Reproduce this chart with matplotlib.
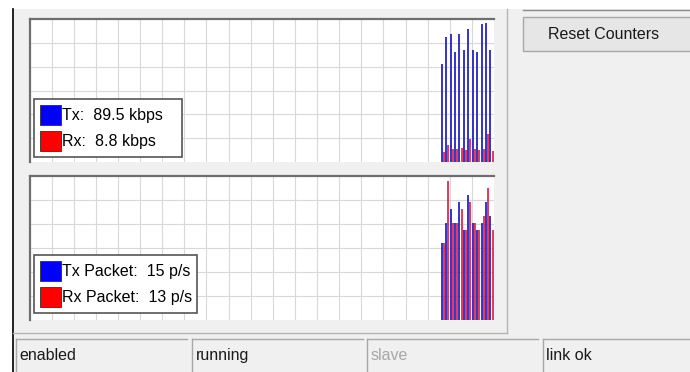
import numpy as np
import matplotlib
matplotlib.use('Agg')
import matplotlib.pyplot as plt
from matplotlib.patches import Rectangle, Patch
from matplotlib import font_manager

# traffic graph (kbps), one sample per step, oldest first
tx_kbps = [78.3, 100.1, 102.7, 88.4, 102.7, 89.5, 106.2, 89.5, 88.4, 110.2, 111.4, 89.5]
rx_kbps = [8.0, 13.3, 10.6, 10.6, 11.4, 9.3, 18.5, 10.6, 9.3, 10.6, 22.5, 8.8]
kbps_max = 114.4

# packet graph (p/s)
tx_pps = [11, 14, 16, 14, 17, 13, 18, 14, 13, 14, 17, 15]
rx_pps = [11, 20, 14, 14, 16, 13, 17, 14, 13, 15, 19, 13]
pps_max = 20.7

traffic_labels = ['Tx:  89.5 kbps', 'Rx:  8.8 kbps']
packet_labels = ['Tx Packet:  15 p/s', 'Rx Packet:  13 p/s']
status_texts = ['enabled', 'running', 'slave', 'link ok']
button_text = 'Reset Counters'

W, H = 690, 372
BG = '#f0f0f0'
BLUE = '#2323c8'
RED = '#e0284c'

installed = {f.name for f in font_manager.fontManager.ttflist}
if 'Liberation Sans Narrow' in installed:
    ui_font, fs = 'Liberation Sans Narrow', 13.2
else:
    ui_font, fs = 'Liberation Sans', 11.5
plt.rcParams['font.family'] = [ui_font, 'DejaVu Sans']


def px_box(x0, y0, x1, y1):
    return [x0 / W, 1 - y1 / H, (x1 - x0) / W, (y1 - y0) / H]


fig = plt.figure(figsize=(W / 100, H / 100), dpi=100, facecolor=BG)

# window chrome drawn in pixel coordinates
bg = fig.add_axes([0, 0, 1, 1])
bg.set_xlim(0, W)
bg.set_ylim(H, 0)
bg.axis('off')
bg.add_patch(Rectangle((0, 0), W, 9, fc='white', ec='none'))
bg.add_patch(Rectangle((0, 0), 12, H, fc='white', ec='none'))
bg.plot([12.5, 12.5], [9, H], color='black', lw=1.2)
bg.plot([507, 507], [9, 333], color='#b4b4b4', lw=1)
bg.plot([13, 507], [333, 333], color='#b4b4b4', lw=1)
bg.plot([523, W], [9.5, 9.5], color='#8c8c8c', lw=1)

# Reset Counters button
bg.add_patch(Rectangle((523, 17), W - 523 + 2, 34, fc='#e6e6e6', ec='#a8a8a8', lw=1))
bg.text(604, 34.5, button_text, ha='center', va='center', fontsize=fs, color='#1a1a1a')

# status bar
cells = [(16, 187), (192, 363), (367, 538), (543, W + 2)]
for (x0, x1), label in zip(cells, status_texts):
    bg.plot([x0, x1], [339, 339], color='#a8a8a8', lw=1)
    bg.plot([x0, x0], [339, H], color='#a8a8a8', lw=1)
    color = '#a8a8a8' if label == 'slave' else '#1a1a1a'
    bg.text(x0 + 3.5, 355.5, label, ha='left', va='center', fontsize=fs, color=color)


def draw_graph(box, tx, rx, ymax, labels, leg_y, leg_w):
    ax = fig.add_axes(px_box(*box))
    ax.set_facecolor('white')
    ax.set_xlim(0, 21)
    ax.set_ylim(0, ymax)
    ax.set_xticks(np.arange(1, 21))
    ax.set_yticks(np.linspace(0, ymax, 7)[1:-1])
    ax.tick_params(length=0, labelbottom=False, labelleft=False)
    ax.set_axisbelow(True)
    ax.grid(True, color='#d8d8d8', lw=0.8)
    for side in ['right', 'bottom']:
        ax.spines[side].set_visible(False)
    for side in ['top', 'left']:
        ax.spines[side].set_color('#6e6e6e')
        ax.spines[side].set_linewidth(1.6)

    x = 18.64 + 0.2 * np.arange(len(tx))
    ax.vlines(x, 0, tx, color=BLUE, lw=1.3)
    ax.vlines(x + 0.095, 0, rx, color=RED, lw=1.3)

    handles = [Patch(fc='#0000ff', ec='#303030', lw=0.6),
               Patch(fc='#ff0000', ec='#303030', lw=0.6)]
    leg = ax.legend(handles, labels, loc='lower left', mode='expand',
                    bbox_to_anchor=(0.0097, leg_y, leg_w, 0.3),
                    borderaxespad=0, fontsize=fs, fancybox=False, framealpha=1,
                    handlelength=1.3, handleheight=1.55, handletextpad=0.12,
                    labelspacing=0.4, borderpad=0.36)
    leg.get_frame().set_edgecolor('#555555')
    leg.get_frame().set_linewidth(1.2)
    return ax


draw_graph((29.5, 19, 494, 162), tx_kbps, rx_kbps, kbps_max, traffic_labels, 0.035, 0.3186)
draw_graph((29.5, 176, 494, 320), tx_pps, rx_pps, pps_max, packet_labels, 0.049, 0.35)

fig.savefig('out.png', dpi=100, facecolor=BG)
